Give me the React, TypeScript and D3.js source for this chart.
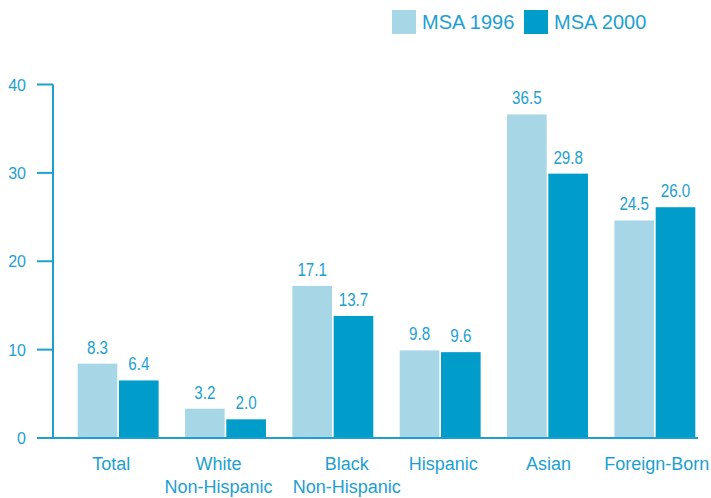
import React from "react";
import * as d3 from "d3";

const categories = [["Total"], ["White", "Non-Hispanic"], ["Black", "Non-Hispanic"], ["Hispanic"], ["Asian"], ["Foreign-Born"]];
const seriesNames = ["MSA 1996", "MSA 2000"];
const msa1996 = [8.3, 3.2, 17.1, 9.8, 36.5, 24.5];
const msa2000 = [6.4, 2.0, 13.7, 9.6, 29.8, 26.0];
const yTicks = [0, 10, 20, 30, 40];

const W = 711;
const H = 498;
const LIGHT = "#a7d7e7";
const DARK = "#009dcb";
const TEXT = "#1d9fd0";
const FONT = "'Liberation Sans', Arial, sans-serif";
// small layout nudges for category labels (as in the original artwork)
const LABEL_DX = [-7, -7, 14, 3, 1, 2];

export default function App() {
  const y = d3.scaleLinear().domain([0, 40]).range([438, 84.5]);
  const x = d3
    .scaleBand<number>()
    .domain(d3.range(categories.length))
    .range([53, 720])
    .paddingInner(0.246)
    .paddingOuter(0.23);
  const inner = d3.scaleBand<number>().domain([0, 1]).range([0, x.bandwidth()]).paddingInner(0.04);
  const series = [msa1996, msa2000];
  const colors = [LIGHT, DARK];
  const axisX = 53;
  const baseY = y(0);

  return (
    <div style={{ position: "fixed", left: 0, top: 0 }}>
      <svg width={W} height={H} style={{ display: "block", background: "#fff" }} fontFamily={FONT}>
        {/* legend */}
        {seriesNames.map((name, i) => {
          const lx = i === 0 ? 392 : 524;
          return (
            <g key={name}>
              <rect x={lx} y={10} width={24} height={24} fill={colors[i]} />
              <text x={lx + 30} y={29} fontSize={20} fill={TEXT}>
                {name}
              </text>
            </g>
          );
        })}
        {/* bars */}
        {series.map((vals, si) =>
          vals.map((v, ci) => {
            const bx = (x(ci) as number) + (inner(si) as number);
            const top = y(v) - 1;
            const cx = bx + inner.bandwidth() / 2;
            return (
              <g key={`${si}-${ci}`}>
                <rect x={bx} y={top} width={inner.bandwidth()} height={baseY - top} fill={colors[si]} />
                <text
                  transform={`translate(${cx},${top - 10}) scale(0.8,1)`}
                  textAnchor="middle"
                  fontSize={19}
                  fill={TEXT}
                >
                  {v.toFixed(1)}
                </text>
              </g>
            );
          })
        )}
        {/* y axis */}
        <line x1={axisX} x2={axisX} y1={y(40)} y2={baseY} stroke={TEXT} strokeWidth={2} />
        {yTicks.map((t) => (
          <g key={t}>
            <line x1={37} x2={axisX} y1={y(t)} y2={y(t)} stroke={TEXT} strokeWidth={2} />
            <text x={26} y={y(t) + 6} textAnchor="end" fontSize={16} fill={TEXT}>
              {t}
            </text>
          </g>
        ))}
        {/* x axis */}
        <line x1={37} x2={698} y1={baseY} y2={baseY} stroke={TEXT} strokeWidth={2} />
        {categories.map((lines, ci) => {
          const cx = (x(ci) as number) + x.bandwidth() / 2 + LABEL_DX[ci];
          return (
            <text key={ci} x={cx} y={469.5} textAnchor="middle" fontSize={18} fill={TEXT}>
              {lines.map((l, li) => (
                <tspan key={li} x={cx} dy={li === 0 ? 0 : 23.5}>
                  {l}
                </tspan>
              ))}
            </text>
          );
        })}
      </svg>
    </div>
  );
}
